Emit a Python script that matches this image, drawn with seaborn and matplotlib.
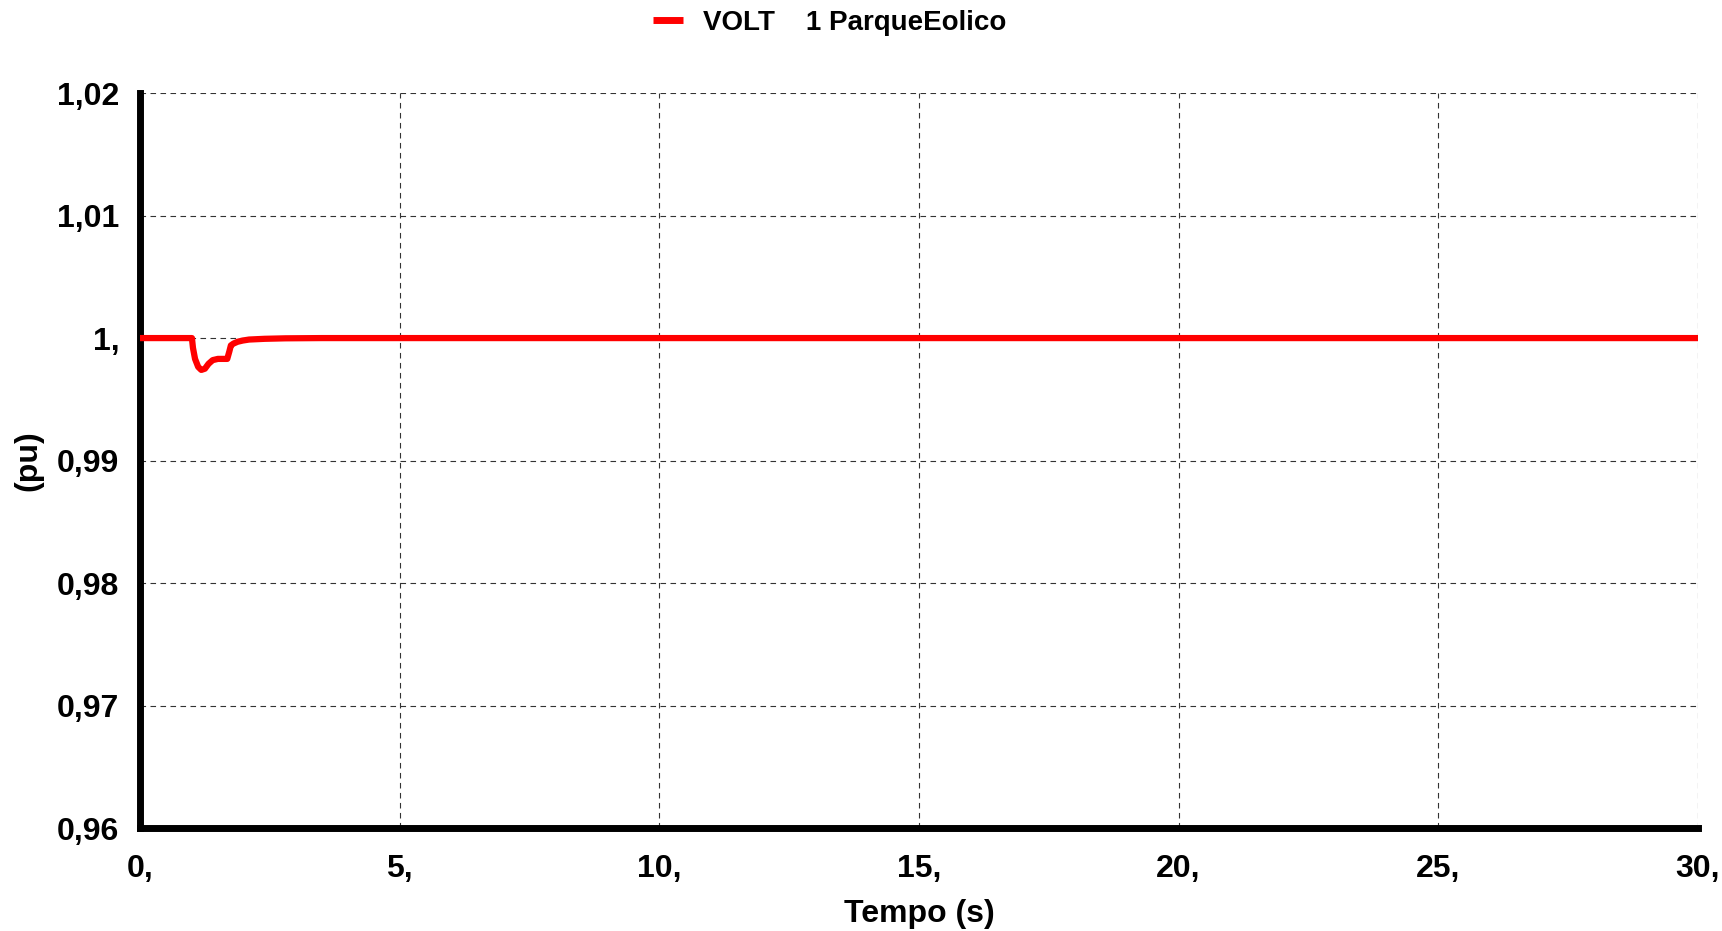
import matplotlib
matplotlib.use("Agg")
import matplotlib.pyplot as plt
import seaborn as sns
import pandas as pd

# Data
tempo = [0.0, 1.0, 1.02, 1.06, 1.12, 1.18, 1.25, 1.32, 1.4, 1.5, 1.6, 1.68, 1.72, 1.75, 1.80, 1.88, 1.98, 2.1, 2.4, 2.8, 3.5, 30.0]
volt = [1.0, 1.0, 0.9992, 0.9983, 0.99765, 0.9974, 0.9975, 0.9979, 0.9982, 0.9983, 0.9983, 0.9983, 0.9989, 0.9994, 0.99955, 0.9997, 0.9998, 0.99988, 0.99994, 0.99998, 1.0, 1.0]
series_name = "VOLT    1 ParqueEolico"

x_ticks = [0, 5, 10, 15, 20, 25, 30]
x_labels = ["0,", "5,", "10,", "15,", "20,", "25,", "30,"]
y_ticks = [0.96, 0.97, 0.98, 0.99, 1.0, 1.01, 1.02]
y_labels = ["0,96", "0,97", "0,98", "0,99", "1,", "1,01", "1,02"]

df = pd.DataFrame({"Tempo": tempo, "Volt": volt, "Serie": series_name})

sns.set_style("white")
plt.rcParams['font.family'] = ['Liberation Sans', 'DejaVu Sans']
plt.rcParams['font.weight'] = 'bold'
plt.rcParams['text.color'] = 'black'
plt.rcParams['axes.labelcolor'] = 'black'
plt.rcParams['xtick.color'] = 'black'
plt.rcParams['ytick.color'] = 'black'

fig = plt.figure(figsize=(17.22, 9.31), dpi=100)
ax = fig.add_axes([0.0813, 0.1106, 0.9047, 0.7894])

sns.lineplot(data=df, x="Tempo", y="Volt", hue="Serie", palette=["#ff0000"],
             linewidth=4.5, ax=ax, legend=True, zorder=3)

ax.set_xlim(0, 30)
ax.set_ylim(0.96, 1.02)
ax.set_xticks(x_ticks)
ax.set_xticklabels(x_labels)
ax.set_yticks(y_ticks)
ax.set_yticklabels(y_labels)

ax.grid(True, color="#333333", linestyle=(0, (5, 4)), linewidth=0.8, zorder=0)
ax.set_axisbelow(True)

for s in ["top", "right"]:
    ax.spines[s].set_visible(False)
for s in ["left", "bottom"]:
    ax.spines[s].set_linewidth(5)
    ax.spines[s].set_color("black")

ax.tick_params(axis="both", direction="inout", length=10, width=5, color="black",
               labelsize=23, labelcolor="black")
ax.tick_params(axis="x", pad=14)
ax.tick_params(axis="y", pad=10)
for lab in ax.get_xticklabels() + ax.get_yticklabels():
    lab.set_fontweight("bold")

ax.set_xlabel("Tempo (s)", fontsize=23, fontweight="bold", color="black")
ax.set_ylabel("(pu)", fontsize=23, fontweight="bold", color="black")
ax.xaxis.set_label_coords(0.5, -0.097)
ax.yaxis.set_label_coords(-0.062, 0.5)

leg = ax.legend(loc="center left", bbox_to_anchor=(0.379, 0.9755),
                bbox_transform=fig.transFigure, frameon=False, borderpad=0,
                borderaxespad=0, fontsize=20, handlelength=1.1, handletextpad=0.7)
for t in leg.get_texts():
    t.set_fontweight("bold")
    t.set_color("black")
for h in leg.get_lines():
    h.set_linewidth(5)
    h.set_solid_capstyle("butt")

fig.savefig("out.png", dpi=100)
